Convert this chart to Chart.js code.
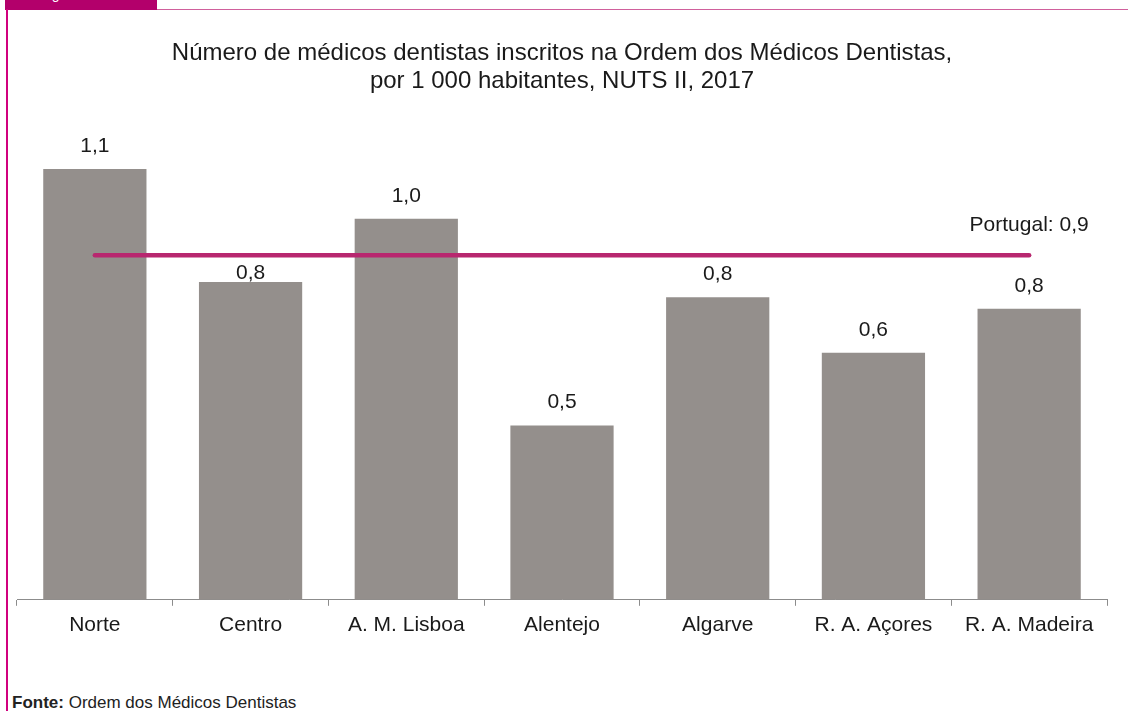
<!DOCTYPE html>
<html>
<head>
<meta charset="utf-8">
<script src="https://cdn.jsdelivr.net/npm/chart.js@4"></script>
<style>
  body { margin: 0; background: #fff; font-family: "Liberation Sans", Arial, sans-serif; }
  .frame { position: relative; width: 1128px; height: 711px; overflow: hidden; }
  .tab { position: absolute; left: 5px; top: 0; width: 152px; height: 10px; background: #b3006b; overflow: hidden; }
  .tab span { position: absolute; left: 35px; top: -13px; font-size: 14px; line-height: 14px; color: #fff; }
  .topline { position: absolute; left: 157px; top: 9px; right: 0; height: 1px; background: #d0609c; }
  .leftline { position: absolute; left: 6px; top: 9px; bottom: 0; width: 2px; background: #d1007e; }
  .chart { position: absolute; left: 0; top: 0; width: 1128px; height: 645px; }
  .source { position: absolute; left: 12px; top: 693px; font-size: 17px; line-height: 20px; color: #222; }
</style>
</head>
<body>
<div class="frame">
  <div class="tab"><span>Figura</span></div>
  <div class="topline"></div>
  <div class="leftline"></div>
  <div class="chart"><canvas id="c"></canvas></div>
  <div class="source"><b>Fonte:</b> Ordem dos Médicos Dentistas</div>
</div>
<script>
// Categories and values
const regions = ['Norte', 'Centro', 'A. M. Lisboa', 'Alentejo', 'Algarve', 'R. A. Açores', 'R. A. Madeira'];
const dentists = [1.125, 0.83, 0.995, 0.455, 0.79, 0.645, 0.76];
const portugalLine = [0.9, 0.9, 0.9, 0.9, 0.9, 0.9, 0.9];
const portugalLabel = 'Portugal: 0,9';

const BAR_COLOR = '#948f8c';
const LINE_COLOR = '#b8276f';
const FONT = '"Liberation Sans", Arial, sans-serif';

const fmt = v => v.toFixed(1).replace('.', ',');

// Value labels above bars, and the label for the national line
const labelPlugin = {
  id: 'labels',
  afterDatasetsDraw(chart) {
    const ctx = chart.ctx;
    const lineMeta = chart.getDatasetMeta(1);
    const lineY = lineMeta.data[0].y;
    ctx.save();
    ctx.font = '21px ' + FONT;
    ctx.fillStyle = '#1a1a1a';
    ctx.textAlign = 'center';
    ctx.textBaseline = 'middle';
    chart.getDatasetMeta(0).data.forEach((bar, i) => {
      let y = bar.y - 23;
      // push label below the reference line if it would collide
      if (Math.abs(y - lineY) < 14) y = bar.y - 9;
      ctx.fillText(fmt(dentists[i]), bar.x, y);
    });
    const last = lineMeta.data[lineMeta.data.length - 1];
    ctx.fillText(portugalLabel, last.x, last.y - 30);
    ctx.restore();
  }
};

new Chart(document.getElementById('c'), {
  data: {
    labels: regions,
    datasets: [
      {
        type: 'bar',
        data: dentists,
        backgroundColor: BAR_COLOR,
        barPercentage: 0.663,
        categoryPercentage: 1,
        order: 2
      },
      {
        type: 'line',
        data: portugalLine,
        borderColor: LINE_COLOR,
        borderWidth: 4.5,
        borderCapStyle: 'round',
        pointRadius: 0,
        order: 1
      }
    ]
  },
  options: {
    responsive: true,
    maintainAspectRatio: false,
    animation: false,
    layout: { padding: { left: 17, right: 21, top: 0, bottom: 0 } },
    plugins: {
      legend: { display: false },
      tooltip: { enabled: false },
      title: {
        display: true,
        text: ['Número de médicos dentistas inscritos na Ordem dos Médicos Dentistas,', 'por 1 000 habitantes, NUTS II, 2017'],
        color: '#1a1a1a',
        font: { family: FONT, size: 24, weight: 'normal', lineHeight: 1.15 },
        padding: { top: 40, bottom: 26 }
      }
    },
    scales: {
      x: {
        grid: { drawOnChartArea: false, drawTicks: true, tickLength: 6, color: '#8c8c8c', offset: true },
        border: { display: true, color: '#8c8c8c', width: 1 },
        ticks: { color: '#1a1a1a', font: { family: FONT, size: 21 }, padding: 7, maxRotation: 0 }
      },
      y: {
        display: false,
        min: 0,
        max: 1.25
      }
    }
  },
  plugins: [labelPlugin]
});
</script>
</body>
</html>
